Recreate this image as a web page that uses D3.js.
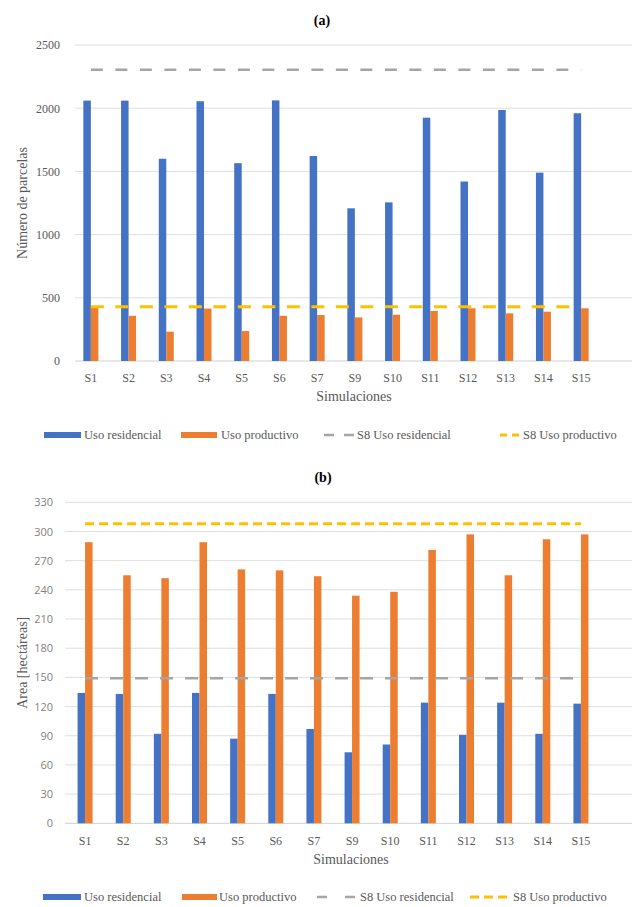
<!DOCTYPE html>
<html>
<head>
<meta charset="utf-8">
<script src="https://cdn.jsdelivr.net/npm/d3@7"></script>
<style>
  html, body { margin: 0; padding: 0; background: #fff; }
  svg { display: block; }
</style>
</head>
<body>
<svg id="fig" width="635" height="907"></svg>
<script>
// Simulated scenarios (S8 is the reference scenario, drawn as dashed lines)
const categories = ["S1", "S2", "S3", "S4", "S5", "S6", "S7", "S9", "S10", "S11", "S12", "S13", "S14", "S15"];

// (a) Número de parcelas
const parcelasResidencial = [2060, 2060, 1600, 2055, 1565, 2062, 1622, 1208, 1255, 1925, 1420, 1986, 1490, 1960];
const parcelasProductivo  = [420, 358, 232, 415, 237, 358, 364, 345, 366, 396, 417, 377, 390, 417];
const parcelasS8Residencial = 2305;
const parcelasS8Productivo  = 430;
const parcelasTicks = [0, 500, 1000, 1500, 2000, 2500];

// (b) Área en hectáreas
const areaResidencial = [134, 133, 92, 134, 87, 133, 97, 73, 81, 124, 91, 124, 92, 123];
const areaProductivo  = [289, 255, 252, 289, 261, 260, 254, 234, 238, 281, 297, 255, 292, 297];
const areaS8Residencial = 149;
const areaS8Productivo  = 308;
const areaTicks = [0, 30, 60, 90, 120, 150, 180, 210, 240, 270, 300, 330];

const legendLabels = ["Uso residencial", "Uso productivo", "S8 Uso residencial", "S8 Uso productivo"];

const COLORS = { res: "#4472C4", prod: "#ED7D31", s8res: "#A5A5A5", s8prod: "#FFC000" };
const SERIF = "Liberation Serif, Times New Roman, serif";
const SANS = "Open Sans, sans-serif";

const svg = d3.select("#fig");

function drawPanel(cfg) {
  const g = svg.append("g").attr("font-family", SERIF);
  const x = d3.scaleBand().domain(categories).range([cfg.x0, cfg.x1]).paddingInner(0).paddingOuter(0);
  const y = d3.scaleLinear().domain([0, d3.max(cfg.ticks)]).range([cfg.yBottom, cfg.yTop]);
  const barW = 7.5;

  // panel title
  g.append("text").attr("x", cfg.titleX).attr("y", cfg.titleY)
    .attr("text-anchor", "middle").attr("font-weight", "bold").attr("font-size", 14)
    .attr("fill", "#000").text(cfg.title);

  // horizontal gridlines
  g.append("g").selectAll("line").data(cfg.ticks).join("line")
    .attr("x1", cfg.gridX0).attr("x2", cfg.gridX1)
    .attr("y1", d => y(d)).attr("y2", d => y(d))
    .attr("stroke", d => d === 0 ? "#d0d0d0" : "#dedede").attr("stroke-width", 1);

  // y axis labels
  const yAxis = d3.axisLeft(y).tickValues(cfg.ticks).tickFormat(d3.format("d")).tickSize(0).tickPadding(0);
  const ya = g.append("g").attr("transform", `translate(${cfg.yLabelX},0)`).call(yAxis);
  ya.select(".domain").remove();
  ya.attr("font-family", cfg.yTickFont).attr("font-size", cfg.yTickSize);
  ya.selectAll("text").attr("fill", cfg.yTickColor);

  // bars
  g.append("g").selectAll("rect").data(cfg.res).join("rect")
    .attr("x", (d, i) => x(categories[i]) + x.bandwidth() / 2 - barW)
    .attr("y", d => y(d)).attr("width", barW).attr("height", d => y(0) - y(d))
    .attr("fill", COLORS.res);
  g.append("g").selectAll("rect").data(cfg.prod).join("rect")
    .attr("x", (d, i) => x(categories[i]) + x.bandwidth() / 2)
    .attr("y", d => y(d)).attr("width", barW).attr("height", d => y(0) - y(d))
    .attr("fill", COLORS.prod);

  // S8 reference lines
  const line = d3.line().x(d => x(d[0]) + x.bandwidth() / 2).y(d => y(d[1]));
  g.append("path").datum(categories.map(c => [c, cfg.s8res]))
    .attr("d", line).attr("fill", "none").attr("stroke", COLORS.s8res)
    .attr("stroke-width", 2.5).attr("stroke-dasharray", cfg.grayDash);
  g.append("path").datum(categories.map(c => [c, cfg.s8prod]))
    .attr("d", line).attr("fill", "none").attr("stroke", COLORS.s8prod)
    .attr("stroke-width", 3).attr("stroke-dasharray", cfg.yellowDash);

  // x axis labels
  const xAxis = d3.axisBottom(x).tickSize(0).tickPadding(cfg.xPad);
  const xa = g.append("g").attr("transform", `translate(0,${y(0)})`).call(xAxis);
  xa.select(".domain").remove();
  xa.attr("font-family", SERIF).attr("font-size", 12);
  xa.selectAll("text").attr("fill", "#595959");

  // axis titles
  g.append("text").attr("x", cfg.xTitleX).attr("y", cfg.xTitleY).attr("text-anchor", "middle")
    .attr("font-size", 14).attr("fill", "#595959").text("Simulaciones");
  g.append("text").attr("transform", `translate(${cfg.yTitleX},${(cfg.yTop + cfg.yBottom) / 2}) rotate(-90)`)
    .attr("text-anchor", "middle").attr("dy", "0.35em")
    .attr("font-size", 14).attr("fill", "#595959").text(cfg.yTitle);

  // legend
  const L = cfg.legend;
  const lg = g.append("g").attr("transform", `translate(0,${L.y})`);
  lg.append("rect").attr("x", L.items[0][0]).attr("y", -3).attr("width", L.items[0][1] - L.items[0][0])
    .attr("height", 6).attr("fill", COLORS.res);
  lg.append("rect").attr("x", L.items[1][0]).attr("y", -3).attr("width", L.items[1][1] - L.items[1][0])
    .attr("height", 6).attr("fill", COLORS.prod);
  lg.append("line").attr("x1", L.items[2][0]).attr("x2", L.items[2][1]).attr("y1", 0).attr("y2", 0)
    .attr("stroke", COLORS.s8res).attr("stroke-width", 2.5).attr("stroke-dasharray", L.grayDash);
  lg.append("line").attr("x1", L.items[3][0]).attr("x2", L.items[3][1]).attr("y1", 0).attr("y2", 0)
    .attr("stroke", COLORS.s8prod).attr("stroke-width", 3).attr("stroke-dasharray", L.yellowDash);
  legendLabels.forEach((t, i) => {
    lg.append("text").attr("x", L.items[i][2]).attr("y", 0).attr("dy", "0.33em")
      .attr("font-size", 12.5).attr("fill", "#595959").text(t);
  });
}

drawPanel({
  title: "(a)", titleX: 322, titleY: 25,
  x0: 72, x1: 600, gridX0: 75, gridX1: 632,
  yTop: 45, yBottom: 361, ticks: parcelasTicks,
  yLabelX: 60, yTickFont: SERIF, yTickSize: 12, yTickColor: "#595959",
  res: parcelasResidencial, prod: parcelasProductivo,
  s8res: parcelasS8Residencial, s8prod: parcelasS8Productivo,
  grayDash: "12 12.5", yellowDash: "13 11.5",
  xPad: 12, xTitleX: 354, xTitleY: 401,
  yTitle: "Número de parcelas", yTitleX: 22,
  legend: { y: 435, grayDash: "10 10", yellowDash: "7 5",
    items: [[44, 81, 84], [181, 217, 221], [324, 354, 357], [500, 519, 523]] }
});

drawPanel({
  title: "(b)", titleX: 323, titleY: 482,
  x0: 66, x1: 600, gridX0: 65, gridX1: 632,
  yTop: 502.3, yBottom: 823.3, ticks: areaTicks,
  yLabelX: 53, yTickFont: SANS, yTickSize: 11, yTickColor: "#7f7f7f",
  res: areaResidencial, prod: areaProductivo,
  s8res: areaS8Residencial, s8prod: areaS8Productivo,
  grayDash: "13 12", yellowDash: "9 5",
  xPad: 13, xTitleX: 351, xTitleY: 864,
  yTitle: "Area [hectáreas]", yTitleX: 22,
  legend: { y: 897, grayDash: "10 18", yellowDash: "9 5",
    items: [[43, 81, 84], [182, 217, 219], [317, 355, 360], [470, 508, 513]] }
});
</script>
</body>
</html>
